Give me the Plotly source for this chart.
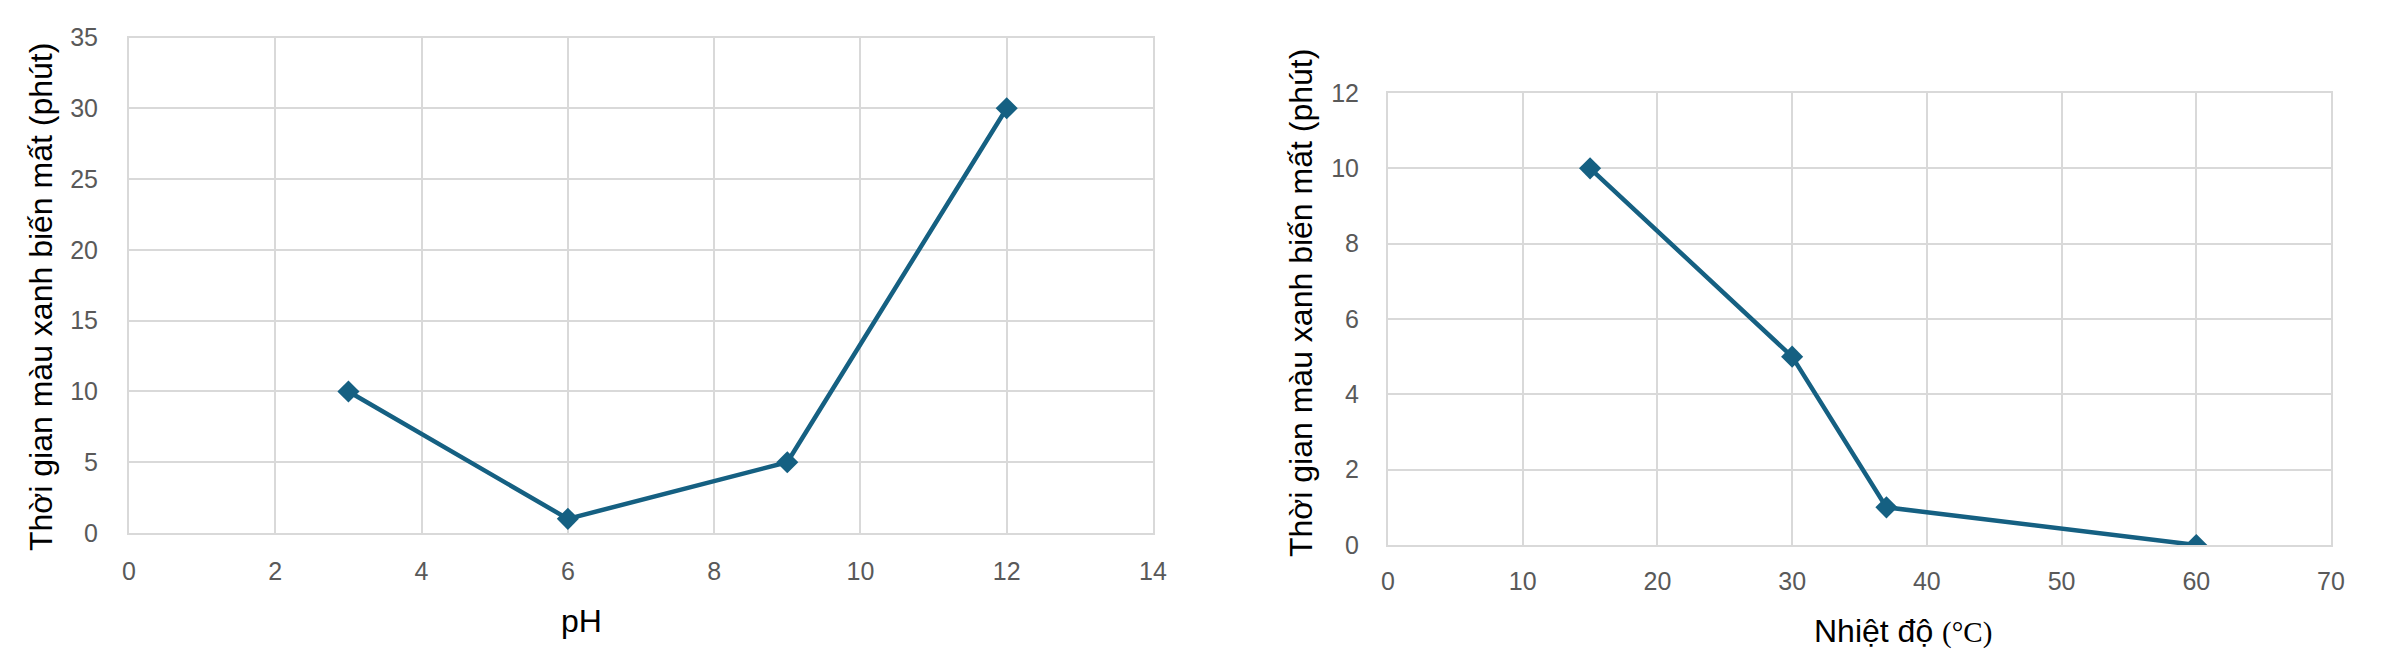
import plotly.graph_objects as go

# Data
ph_values = [3, 6, 9, 12]
ph_times = [10, 1, 5, 30]
temp_values = [15, 30, 37, 60]
temp_times = [10, 5, 1, 0]

y_title = "Thời gian màu xanh biến mất (phút)"
x_title_left = "pH"
x_title_right = "Nhiệt độ <span style='font-family:\"Liberation Serif\", \"Times New Roman\", serif;font-size:29px'>(°C)</span>"

LINE_COLOR = "#156082"
GRID = "#d9d9d9"
TICK_FONT = dict(family="Arial, 'Liberation Sans', sans-serif", size=25, color="#595959")
TITLE_FONT = dict(family="Arial, 'Liberation Sans', sans-serif", size=32, color="#000000")

W, H = 2388, 665
OFF = 8  # page body margin offset


def px(v):
    return (v - OFF) / W


def py(v):
    return 1 - (v - OFF) / H


fig = go.Figure()
fig.add_trace(go.Scatter(x=ph_values, y=ph_times, mode="lines+markers",
                         line=dict(color=LINE_COLOR, width=4.5),
                         marker=dict(symbol="diamond", size=17, color=LINE_COLOR),
                         xaxis="x", yaxis="y", showlegend=False))
fig.add_trace(go.Scatter(x=temp_values, y=temp_times, mode="lines+markers",
                         line=dict(color=LINE_COLOR, width=4.5),
                         marker=dict(symbol="diamond", size=17, color=LINE_COLOR),
                         xaxis="x2", yaxis="y2", showlegend=False))


def ax(rng, dtick, domain, anchor, standoff):
    return dict(range=rng, dtick=dtick, tick0=0, domain=domain, anchor=anchor,
                showgrid=True, gridcolor=GRID, gridwidth=2, automargin=False,
                zeroline=False, showline=True, linecolor=GRID, linewidth=2, mirror=True,
                ticks="", tickfont=TICK_FONT, ticklabelstandoff=standoff, fixedrange=True)


fig.update_layout(
    width=W, height=H,
    margin=dict(l=0, r=0, t=0, b=0, autoexpand=False),
    paper_bgcolor="white", plot_bgcolor="white",
    xaxis=ax([0, 14], 2, [px(129), px(1153)], "y", 15),
    yaxis=ax([0, 35], 5, [py(533), py(37.5)], "x", 24),
    xaxis2=ax([0, 70], 10, [px(1388), px(2331)], "y2", 13),
    yaxis2=ax([0, 12], 2, [py(545), py(93)], "x2", 22),
    annotations=[
        dict(text=x_title_left, x=px(581), y=py(621), xref="paper", yref="paper",
             xanchor="center", yanchor="middle", showarrow=False, font=TITLE_FONT),
        dict(text=x_title_right, x=px(1903), y=py(631), xref="paper", yref="paper",
             xanchor="center", yanchor="middle", showarrow=False, font=TITLE_FONT),
        dict(text=y_title, x=px(41), y=py(297), xref="paper", yref="paper",
             xanchor="center", yanchor="middle", textangle=-90, showarrow=False, font=TITLE_FONT),
        dict(text=y_title, x=px(1301), y=py(303), xref="paper", yref="paper",
             xanchor="center", yanchor="middle", textangle=-90, showarrow=False, font=TITLE_FONT),
    ],
)

fig.write_html("out.html")
